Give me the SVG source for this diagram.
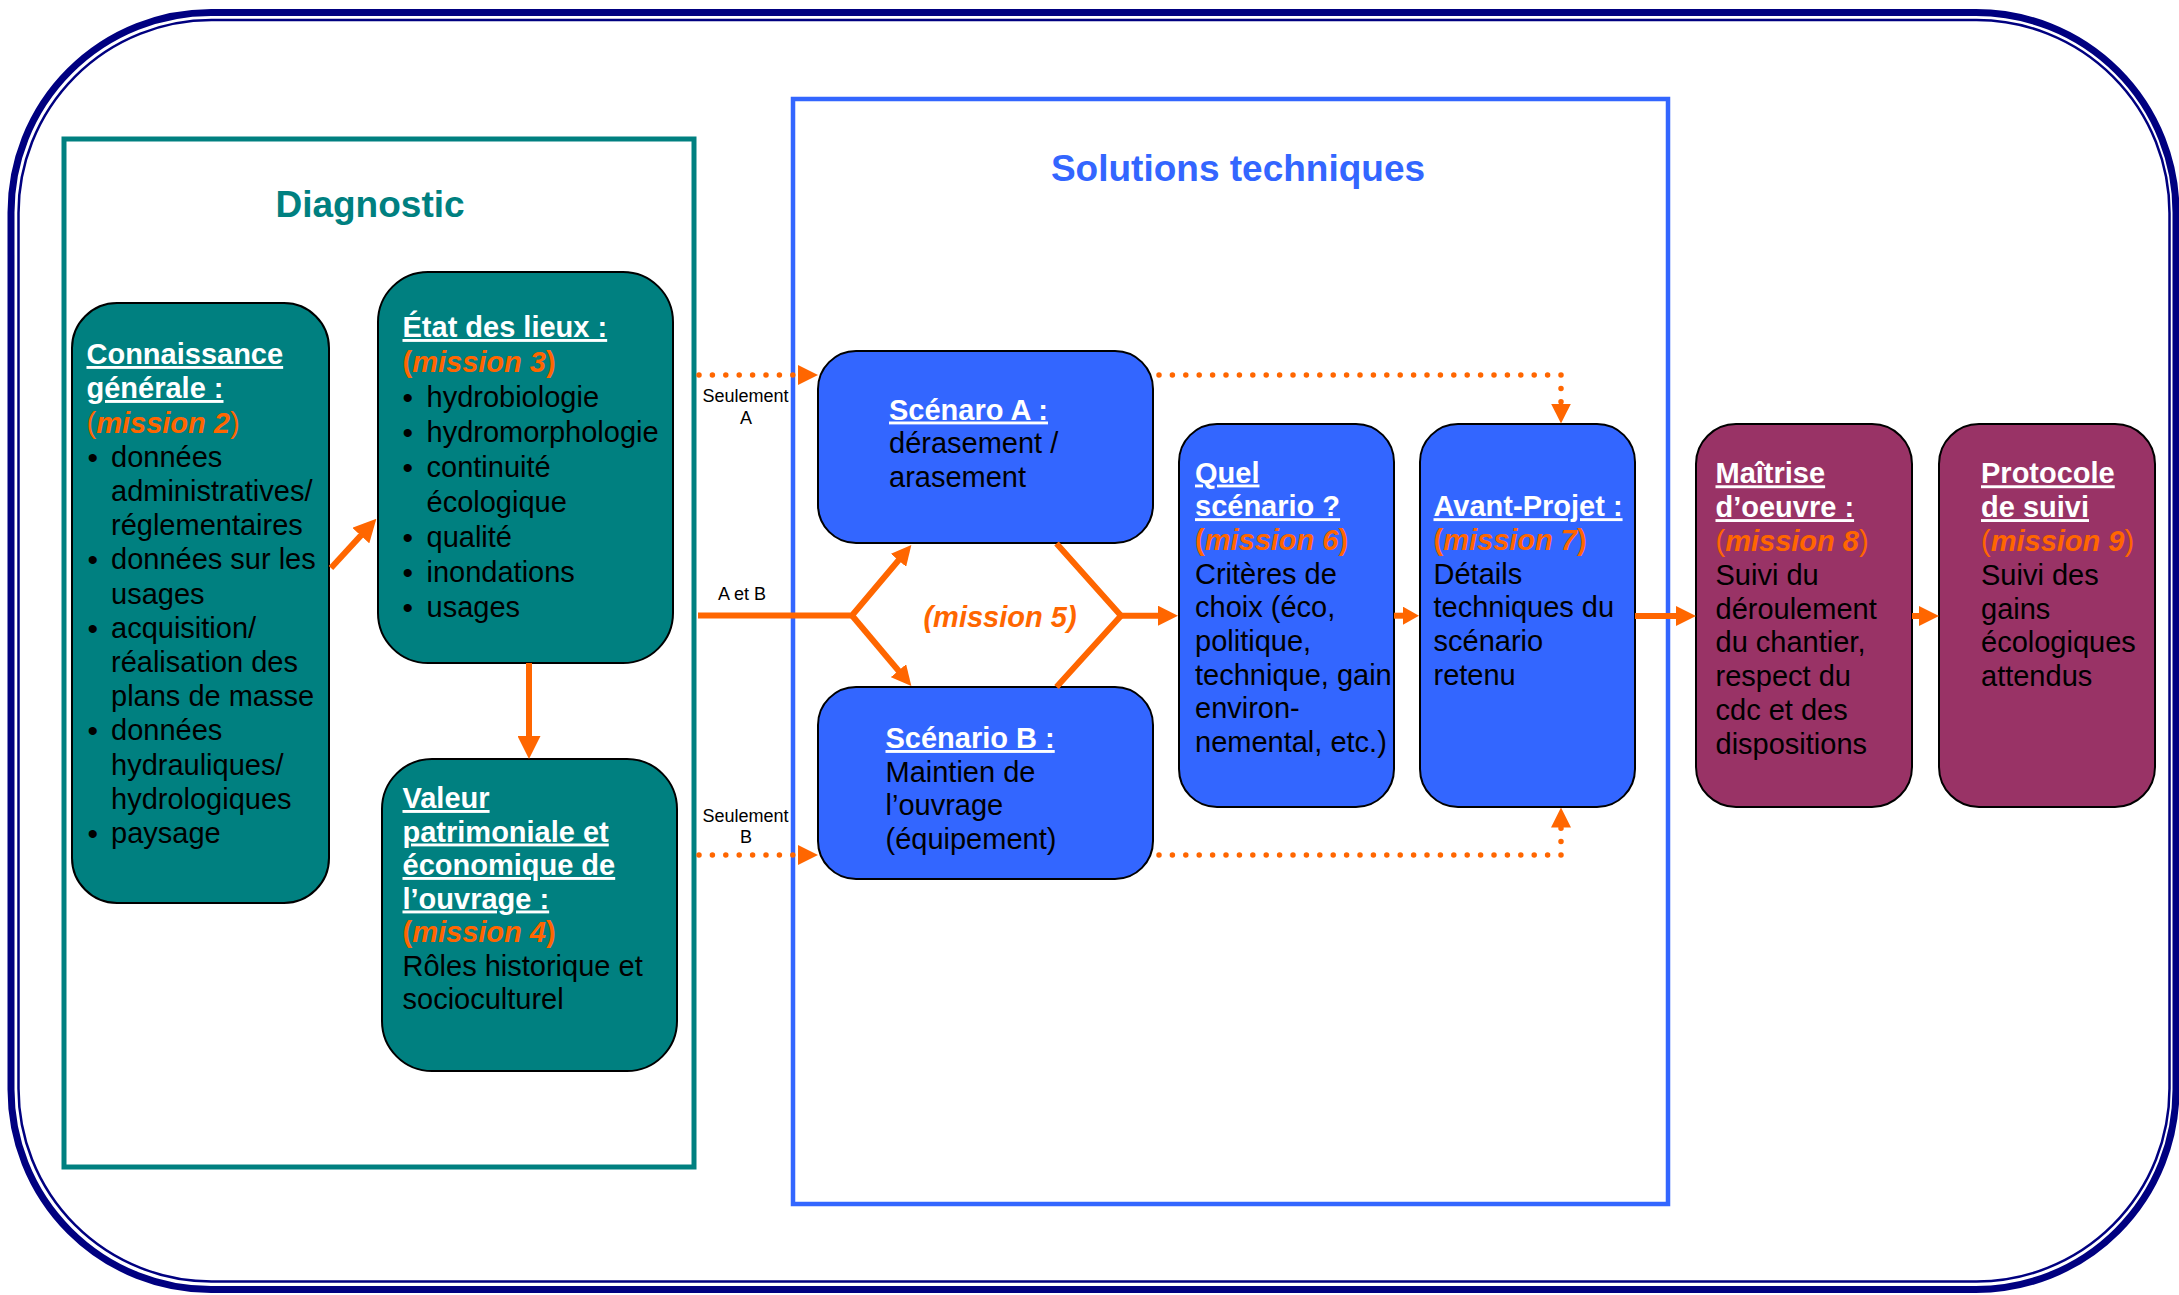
<svg xmlns="http://www.w3.org/2000/svg" width="2179" height="1295" viewBox="0 0 2179 1295">
<style>
text { font-family: "Liberation Sans", Arial, sans-serif; font-size: 29px; fill: #000; }
.h { font-weight: bold; fill: #fff; text-decoration: underline; }
.m { fill: #FF6600; }
.mi { font-weight: bold; font-style: italic; fill: #FF6600; }
.mp { font-weight: bold; fill: #FF6600; }
.b { font-size: 30px; }
.lbl { font-size: 18px; text-anchor: middle; }
.title { font-size: 37px; font-weight: bold; text-anchor: middle; }
.teal { fill: #008080; stroke: #000; stroke-width: 2; }
.blue { fill: #3366FF; stroke: #000; stroke-width: 2; }
.plum { fill: #993366; stroke: #000; stroke-width: 2; }
.solid { fill: none; stroke: #FF6600; stroke-width: 6; stroke-linejoin: miter; }
.dot { fill: none; stroke: #FF6600; stroke-width: 5.5; stroke-linecap: round; stroke-dasharray: 0 13.4; }
</style>
<defs>
<marker id="ah" markerUnits="userSpaceOnUse" markerWidth="20" markerHeight="20" viewBox="0 0 20 20" refX="10" refY="10" orient="auto"><path d="M0,0 L20,10 L0,20 z" fill="#FF6600"/></marker>
<marker id="ahb" markerUnits="userSpaceOnUse" markerWidth="23" markerHeight="23" viewBox="0 0 23 23" refX="11.5" refY="11.5" orient="auto"><path d="M0,0 L23,11.5 L0,23 z" fill="#FF6600"/></marker>
<marker id="ahs" markerUnits="userSpaceOnUse" markerWidth="16" markerHeight="18" viewBox="0 0 16 18" refX="8" refY="9" orient="auto"><path d="M0,0 L16,9 L0,18 z" fill="#FF6600"/></marker>
<marker id="ahd" markerUnits="userSpaceOnUse" markerWidth="20" markerHeight="20" viewBox="0 0 20 20" refX="10" refY="10" orient="auto"><path d="M0,0 L20,10 L0,20 z" fill="#FF6600"/></marker>
</defs>
<rect width="2179" height="1295" fill="#fff"/>

<g id="frame">
<rect x="11" y="12.5" width="2165" height="1277" rx="200" ry="200" fill="none" stroke="#000080" stroke-width="7"/>
<rect x="18.5" y="20" width="2151" height="1261.5" rx="193" ry="193" fill="none" stroke="#000080" stroke-width="2.5"/>
</g>

<g id="diagnostic">
<rect x="64" y="139" width="630" height="1028" fill="none" stroke="#008080" stroke-width="5"/>
<text class="title" x="370" y="217" style="fill:#008080">Diagnostic</text>
</g>

<g id="solutions">
<rect x="793" y="99" width="875" height="1105" fill="none" stroke="#3366FF" stroke-width="4.5"/>
<text class="title" x="1238" y="181" style="fill:#3366FF">Solutions techniques</text>
</g>

<g id="n1">
<rect class="teal" x="72" y="303" width="257" height="600" rx="45"/>
<text>
<tspan class="h" x="86.5" y="364">Connaissance</tspan>
<tspan class="h" x="86.5" y="398">générale :</tspan>
<tspan class="m" x="86.5" y="432.5">(</tspan><tspan class="mi">mission 2</tspan><tspan class="m">)</tspan>
<tspan x="111" y="466.5">données</tspan>
<tspan x="111" y="500.5">administratives/</tspan>
<tspan x="111" y="535">réglementaires</tspan>
<tspan x="111" y="569">données sur les</tspan>
<tspan x="111" y="603.5">usages</tspan>
<tspan x="111" y="637.5">acquisition/</tspan>
<tspan x="111" y="672">réalisation des</tspan>
<tspan x="111" y="706">plans de masse</tspan>
<tspan x="111" y="740">données</tspan>
<tspan x="111" y="774.5">hydrauliques/</tspan>
<tspan x="111" y="808.5">hydrologiques</tspan>
<tspan x="111" y="843">paysage</tspan>
</text>
<text class="b">
<tspan x="87.5" y="467.5">•</tspan>
<tspan x="87.5" y="570">•</tspan>
<tspan x="87.5" y="638.5">•</tspan>
<tspan x="87.5" y="741">•</tspan>
<tspan x="87.5" y="844">•</tspan>
</text>
</g>

<g id="n2">
<rect class="teal" x="378" y="272" width="295" height="391" rx="50"/>
<text>
<tspan class="h" x="402.5" y="337">État des lieux :</tspan>
<tspan class="mp" x="402.5" y="372">(</tspan><tspan class="mi">mission 3</tspan><tspan class="mp">)</tspan>
<tspan x="426.5" y="407">hydrobiologie</tspan>
<tspan x="426.5" y="442">hydromorphologie</tspan>
<tspan x="426.5" y="477">continuité</tspan>
<tspan x="426.5" y="512">écologique</tspan>
<tspan x="426.5" y="547">qualité</tspan>
<tspan x="426.5" y="582">inondations</tspan>
<tspan x="426.5" y="617">usages</tspan>
</text>
<text class="b">
<tspan x="402.5" y="408">•</tspan>
<tspan x="402.5" y="443">•</tspan>
<tspan x="402.5" y="478">•</tspan>
<tspan x="402.5" y="548">•</tspan>
<tspan x="402.5" y="583">•</tspan>
<tspan x="402.5" y="618">•</tspan>
</text>
</g>

<g id="n3">
<rect class="teal" x="382" y="759" width="295" height="312" rx="50"/>
<text>
<tspan class="h" x="402.5" y="808">Valeur</tspan>
<tspan class="h" x="402.5" y="841.5">patrimoniale et</tspan>
<tspan class="h" x="402.5" y="875">économique de</tspan>
<tspan class="h" x="402.5" y="908.5">l’ouvrage :</tspan>
<tspan class="mp" x="402.5" y="942">(</tspan><tspan class="mi">mission 4</tspan><tspan class="mp">)</tspan>
<tspan x="402.5" y="975.5">Rôles historique et</tspan>
<tspan x="402.5" y="1009">socioculturel</tspan>
</text>
</g>

<g id="scenA">
<rect class="blue" x="818" y="351" width="335" height="192" rx="38"/>
<text>
<tspan class="h" x="889" y="419.5">Scénaro A :</tspan>
<tspan x="889" y="453">dérasement /</tspan>
<tspan x="889" y="486.5">arasement</tspan>
</text>
</g>

<g id="scenB">
<rect class="blue" x="818" y="687" width="335" height="192" rx="38"/>
<text>
<tspan class="h" x="885.5" y="748">Scénario B :</tspan>
<tspan x="885.5" y="781.5">Maintien de</tspan>
<tspan x="885.5" y="815">l’ouvrage</tspan>
<tspan x="885.5" y="848.5">(équipement)</tspan>
</text>
</g>

<g id="quel">
<rect class="blue" x="1179" y="424" width="215" height="383" rx="38"/>
<text>
<tspan class="h" x="1195" y="482.5">Quel</tspan>
<tspan class="h" x="1195" y="516.2">scénario ?</tspan>
<tspan class="mp" x="1195" y="549.9">(</tspan><tspan class="mi">mission 6</tspan><tspan class="mp">)</tspan>
<tspan x="1195" y="583.6">Critères de</tspan>
<tspan x="1195" y="617.3">choix (éco,</tspan>
<tspan x="1195" y="651">politique,</tspan>
<tspan x="1195" y="684.7">technique, gain</tspan>
<tspan x="1195" y="718.4">environ-</tspan>
<tspan x="1195" y="752.1">nemental, etc.)</tspan>
</text>
</g>

<g id="avant">
<rect class="blue" x="1420" y="424" width="215" height="383" rx="38"/>
<text>
<tspan class="h" x="1433.5" y="516.2">Avant-Projet :</tspan>
<tspan class="mp" x="1433.5" y="549.9">(</tspan><tspan class="mi">mission 7</tspan><tspan class="mp">)</tspan>
<tspan x="1433.5" y="583.6">Détails</tspan>
<tspan x="1433.5" y="617.3">techniques du</tspan>
<tspan x="1433.5" y="651">scénario</tspan>
<tspan x="1433.5" y="684.7">retenu</tspan>
</text>
</g>

<g id="maitrise">
<rect class="plum" x="1696" y="424" width="216" height="383" rx="40"/>
<text>
<tspan class="h" x="1715.5" y="483.3">Maîtrise</tspan>
<tspan class="h" x="1715.5" y="517.1">d’oeuvre :</tspan>
<tspan class="m" x="1715.5" y="550.9">(</tspan><tspan class="mi">mission 8</tspan><tspan class="m">)</tspan>
<tspan x="1715.5" y="584.7">Suivi du</tspan>
<tspan x="1715.5" y="618.5">déroulement</tspan>
<tspan x="1715.5" y="652.3">du chantier,</tspan>
<tspan x="1715.5" y="686.1">respect du</tspan>
<tspan x="1715.5" y="719.9">cdc et des</tspan>
<tspan x="1715.5" y="753.7">dispositions</tspan>
</text>
</g>

<g id="protocole">
<rect class="plum" x="1939" y="424" width="216" height="383" rx="40"/>
<text>
<tspan class="h" x="1981" y="483.3">Protocole</tspan>
<tspan class="h" x="1981" y="517.1">de suivi</tspan>
<tspan class="m" x="1981" y="550.9">(</tspan><tspan class="mi">mission 9</tspan><tspan class="m">)</tspan>
<tspan x="1981" y="584.7">Suivi des</tspan>
<tspan x="1981" y="618.5">gains</tspan>
<tspan x="1981" y="652.3">écologiques</tspan>
<tspan x="1981" y="686.1">attendus</tspan>
</text>
</g>

<g id="connectors">
<line class="solid" x1="331" y1="568" x2="368.6" y2="527.1" marker-end="url(#ahb)"/>
<line class="solid" x1="529" y1="663" x2="529" y2="747.5" marker-end="url(#ahb)"/>
<line class="dot" x1="699" y1="375" x2="808" y2="375" marker-end="url(#ahd)"/>
<line class="dot" x1="699" y1="855" x2="808" y2="855" marker-end="url(#ahd)"/>
<polyline class="solid" points="698,615.5 852,615.5 904.9,552.7" marker-end="url(#ah)"/>
<line class="solid" x1="852" y1="615.5" x2="904.9" y2="678.3" marker-end="url(#ah)"/>
<polyline class="solid" points="1056.5,543.6 1121,615.7 1056.5,687"/>
<line class="solid" x1="1120" y1="615.7" x2="1168" y2="615.7" marker-end="url(#ah)"/>
<line class="solid" x1="1394" y1="615.7" x2="1411" y2="615.7" marker-end="url(#ahs)"/>
<line class="solid" x1="1635" y1="616" x2="1686" y2="616" marker-end="url(#ah)"/>
<line class="solid" x1="1912" y1="616" x2="1929" y2="616" marker-end="url(#ah)"/>
<polyline class="dot" points="1159,375 1561,375 1561,413.6" marker-end="url(#ahd)"/>
<polyline class="dot" points="1159,855 1561,855 1561,817.5" marker-end="url(#ahd)"/>
<text class="lbl" x="745.5" y="401.5">Seulement</text>
<text class="lbl" x="746" y="423.5">A</text>
<text class="lbl" x="742" y="599.5">A et B</text>
<text class="lbl" x="745.5" y="822">Seulement</text>
<text class="lbl" x="746" y="843">B</text>
<text class="mi" x="1000" y="627" text-anchor="middle">(mission 5)</text>
</g>
</svg>
